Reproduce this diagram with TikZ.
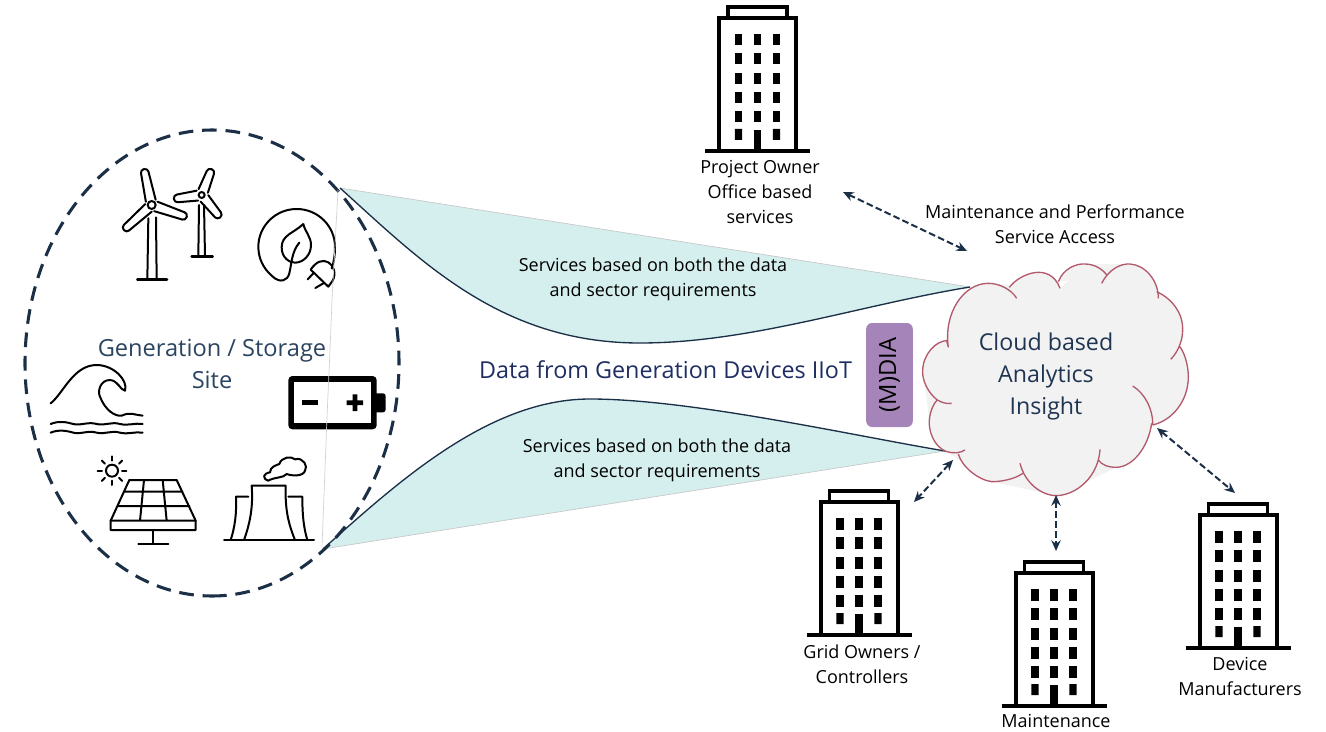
\documentclass[tikz,border=0pt]{standalone}
\usepackage{fontspec}
\usetikzlibrary{arrows.meta,calc}
\setmainfont{Open Sans}
\definecolor{navy}{HTML}{1B2F47}
\definecolor{txtb}{HTML}{2B4460}
\definecolor{txtc}{HTML}{1F3552}
\definecolor{darkt}{HTML}{1F2D63}
\definecolor{teal}{HTML}{D5EFEE}
\definecolor{cloudf}{HTML}{F2F2F2}
\definecolor{cloudl}{HTML}{B25A6C}
\definecolor{purp}{HTML}{A585B9}
\tikzset{
 lbl/.style={font=\fontsize{13.5}{18.6}\selectfont,align=center,text=black,inner sep=0pt},
 big/.style={font=\fontsize{17.7}{24}\selectfont,align=center,text=txtb,inner sep=0pt},
 link/.style={draw=navy,line width=1.5pt,dash pattern=on 5pt off 2.4pt,{Stealth[length=8pt,width=7pt]}-{Stealth[length=8pt,width=7pt]}},
 icon/.style={draw=black,line width=1.5pt,line join=round,line cap=round},
 curve/.style={draw=navy,line width=1pt},
 edgeg/.style={draw=black!22,line width=.5pt},
 zoomA/.style={shift={(20,130)},x=.25pt,y=-.25pt},
 zoomB/.style={shift={(20,350)},x=.25pt,y=-.25pt},
 zoomC/.style={shift={(850,250)},x=.25pt,y=-.25pt},
}
\newcommand\blade[4]{\begin{scope}[shift={(#1,#2)},rotate=#3]
 \draw[icon,rounded corners=2.5pt] (13,-15) -- (#4,-11) -- (#4,11) -- (13,15);
\end{scope}}
\newcommand\building[2]{\begin{scope}[shift={(#1,#2)}]
 \draw[black,line width=2.3pt] (-29.5,-133) -- (-29.5,-144) -- (29.5,-144) -- (29.5,-133);
 \draw[black,line width=3pt] (-38.5,0) -- (-38.5,-133) -- (38.5,-133) -- (38.5,0);
 \draw[black,line width=3pt] (-52.5,0) -- (52.5,0);
 \foreach \rr in {-117,-98,-78,-59,-40}{
  \foreach \cc in {-19,0,19}{
   \fill[black] (\cc-3.7,\rr) rectangle (\cc+3.7,\rr+11.5);
  }}
 \fill[black] (-22.7,-22) rectangle (-15.3,-11) (15.3,-22) rectangle (22.7,-11);
 \fill[black] (-3.7,-21) rectangle (3.7,0);
\end{scope}}
\newcommand\cloudlobes{
 (295,292) .. controls (280,190) and (340,100) .. (415,100) .. controls (450,100) and (485,120) .. (500,145)
 (478,112) .. controls (510,70) and (600,35) .. (630,115)
 (625,95) .. controls (640,55) and (680,40) .. (705,42) .. controls (735,42) and (760,60) .. (770,75)
 (755,100) .. controls (775,60) and (810,40) .. (840,42) .. controls (885,45) and (925,90) .. (925,145)
 (920,125) .. controls (975,150) and (1000,200) .. (998,240) .. controls (998,270) and (985,305) .. (962,328)
 (990,290) .. controls (1010,320) and (1015,360) .. (1015,380) .. controls (1015,450) and (970,510) .. (908,525)
 (848,408) .. controls (885,430) and (910,480) .. (908,525)
 (905,520) .. controls (895,590) and (850,650) .. (800,652) .. controls (775,652) and (755,645) .. (745,630)
 (750,598) .. controls (745,680) and (680,735) .. (620,737) .. controls (575,737) and (525,700) .. (510,640)
 (522,668) .. controls (490,690) and (450,695) .. (425,695) .. controls (385,690) and (335,650) .. (325,612)
 (345,600) .. controls (330,610) and (310,610) .. (290,605) .. controls (250,590) and (235,540) .. (238,510) .. controls (240,480) and (255,455) .. (262,450) .. controls (275,458) and (290,462) .. (305,460)
 (262,450) .. controls (235,430) and (215,390) .. (218,360) .. controls (220,310) and (260,272) .. (290,272) -- (295,292)
}
\begin{document}
\begin{tikzpicture}[x=.75pt,y=-.75pt]
\useasboundingbox (0,0) rectangle (1326,731);
% funnels
\coordinate (fa) at (340,188); \coordinate (fb) at (970,287);
\coordinate (fc) at (323,549); \coordinate (fd) at (945,451);
\fill[teal] (fa) .. controls (420,260) and (500,343) .. (640,343) .. controls (750,343) and (860,305) .. (fb) -- cycle;
\fill[teal] (fc) .. controls (400,480) and (490,399) .. (590,399) .. controls (690,399) and (850,435) .. (fd) -- cycle;
\draw[edgeg] (fa) -- (fb);
\draw[edgeg] (fc) -- (fd);
\draw[curve] (fa) .. controls (420,260) and (500,343) .. (640,343) .. controls (750,343) and (860,305) .. (fb);
\draw[curve] (fc) .. controls (400,480) and (490,399) .. (590,399) .. controls (690,399) and (850,435) .. (fd);
% site ellipse
\draw[navy,line width=2.3pt,dash pattern=on 11pt off 6.6pt] (212,596) arc[start angle=90,end angle=-270,x radius=187,y radius=233];
% turbines
\begin{scope}[zoomA]
 \blade{395}{225}{102}{110}\blade{395}{225}{-19}{111}\blade{395}{225}{222}{112}
 \draw[icon] (395,225) circle (12);
 \draw[icon] (385,265) -- (382,448) (408,262) -- (410,448);
 \draw[icon,line width=1.9pt] (352,449) -- (441,449);
 \blade{545}{195}{69}{83}\blade{545}{195}{188}{84}\blade{545}{195}{-50.6}{87}
 \draw[icon] (545,195) circle (9);
 \draw[icon] (537,225) -- (535,377) (552,225) -- (555,377);
 \draw[icon,line width=1.9pt] (515,379) -- (578,379);
 % leaf and plug
 \draw[icon] (850,282) .. controls (820,310) and (785,315) .. (785,352) .. controls (785,385) and (810,398) .. (825,398) .. controls (850,398) and (873,375) .. (873,345) .. controls (873,320) and (855,305) .. (850,282);
 \draw[icon] (838,338) .. controls (815,365) and (815,400) .. (808,430) .. controls (803,452) and (780,462) .. (755,437) .. controls (730,415) and (715,385) .. (715,350) .. controls (715,290) and (765,237) .. (830,237) .. controls (895,237) and (945,290) .. (945,350) .. controls (945,375) and (942,395) .. (935,415);
 \draw[icon] (872,419) -- (925,470) -- (938,452) .. controls (950,430) and (940,405) .. (925,397) .. controls (908,387) and (888,395) .. (872,419);
 \draw[icon] (880,430) -- (863,448) (910,460) -- (886,474);
\end{scope}
\begin{scope}[zoomB]
 % wave
 \draw[icon] (92,160) .. controls (130,130) and (160,45) .. (230,45) .. controls (280,45) and (325,90) .. (315,122) .. controls (300,120) and (295,92) .. (270,90) .. controls (240,90) and (232,125) .. (240,140) .. controls (255,180) and (285,200) .. (305,197) .. controls (330,185) and (345,195) .. (368,197);
 \foreach \yy in {222,248}{
  \draw[icon] (92,\yy) .. controls (115,\yy-10) and (140,\yy-6) .. (160,\yy) .. controls (180,\yy+6) and (205,\yy-8) .. (230,\yy) .. controls (255,\yy+6) and (275,\yy-8) .. (300,\yy) .. controls (325,\yy+6) and (345,\yy-4) .. (368,\yy);}
 % battery
 \fill[black,rounded corners=3pt] (805,78) rectangle (1070,238);
 \fill[white] (822,97) rectangle (1052,218);
 \fill[black,rounded corners=2pt] (1060,130) rectangle (1097,187);
 \fill[black] (845,150) rectangle (895,165);
 \fill[black] (980,151) rectangle (1029,165) (998,133) rectangle (1012,183);
 % solar
 \draw[icon] (276,362) circle (18);
 \foreach \aa in {0,45,...,315}{\draw[icon] ($(276,362)+(\aa:30)$) -- ($(276,362)+(\aa:43)$);}
 \draw[icon] (272,512) -- (328,390) -- (470,390) -- (527,512) -- (527,540) -- (272,540) -- cycle;
 \draw[icon] (272,512) -- (527,512) (312,425) -- (487,425) (295,468) -- (508,468) (372,390) -- (360,512) (428,390) -- (440,512);
 \draw[icon] (398,540) -- (398,582) (355,582) -- (445,582);
 % plant
 \draw[icon] (612,570) -- (882,570);
 \draw[icon] (672,570) .. controls (690,520) and (700,470) .. (695,407) -- (797,407) .. controls (795,480) and (805,520) .. (825,570);
 \draw[icon] (685,440) -- (648,440) .. controls (650,490) and (645,530) .. (632,570);
 \draw[icon] (805,440) -- (847,440) .. controls (847,490) and (850,530) .. (862,570);
 \draw[icon] (745,392) .. controls (725,385) and (730,370) .. (750,367) .. controls (750,350) and (770,345) .. (778,342) .. controls (785,320) and (815,318) .. (825,328) .. controls (850,320) and (865,350) .. (855,362) .. controls (850,380) and (815,378) .. (800,372) .. controls (790,385) and (765,380) .. (745,392);
\end{scope}
% thin seam
\draw[black!18,line width=.5pt] (338,190) -- (332,300) -- (330,350) -- (327,417) -- (322,547);
\node[big] (site) at (212,364) {Generation / Storage\\Site};
% cloud
\begin{scope}[zoomC]
 \fill[cloudf] \cloudlobes;
 \fill[cloudf] (295,292) -- (415,100) -- (630,115) -- (705,42) -- (840,42) -- (925,145) -- (1015,380) -- (908,525) -- (800,652) -- (620,737) -- (425,695) -- (290,605) -- (238,510) -- (218,360) -- cycle;
 \draw[cloudl,line width=1pt] \cloudlobes;
\end{scope}
\node[big,text=txtc,font=\fontsize{17.4}{24}\selectfont] (cloud) at (1046,376) {Cloud based\\Analytics\\Insight};
% (M)DIA
\node[fill=purp,rounded corners=4.5pt,minimum width=35pt,minimum height=78pt,inner sep=0pt] (mdia) at (889.5,375) {};
\node[rotate=90,inner sep=0pt,font=\fontsize{17.8}{24}\selectfont] at (mdia) {(M)DIA};
\node[inner sep=0pt,text=darkt,font=\fontsize{17.5}{20}\selectfont] (data) at (665.5,370) {Data from Generation Devices IIoT};
\node[lbl] (s1) at (653,279) {Services based on both the data\\and sector requirements};
\node[lbl] (s2) at (657,460) {Services based on both the data\\and sector requirements};
% buildings
\building{757.5}{151}
\building{859}{635}
\building{1054}{706}
\building{1238}{648}
\node[lbl] (po) at (760,192) {Project Owner\\Office based\\services};
\node[lbl] (ms) at (1055,224.5) {Maintenance and Performance\\Service Access};
\node[lbl] (go) at (862,664.5) {Grid Owners /\\Controllers};
\node[lbl] (mt) at (1056,721) {Maintenance};
\node[lbl] (dm) at (1240,676.5) {Device\\Manufacturers};
% links
\coordinate (a1) at (843,192); \coordinate (a2) at (967,251);
\coordinate (b1) at (1157,428); \coordinate (b2) at (1235,493);
\coordinate (c1) at (953,460); \coordinate (c2) at (914,502);
\coordinate (d1) at (1056,495); \coordinate (d2) at (1056,551);
\draw[link] (a1) -- (a2);
\draw[link] (b1) -- (b2);
\draw[link] (c1) -- (c2);
\draw[link] (d1) -- (d2);
\end{tikzpicture}
\end{document}
